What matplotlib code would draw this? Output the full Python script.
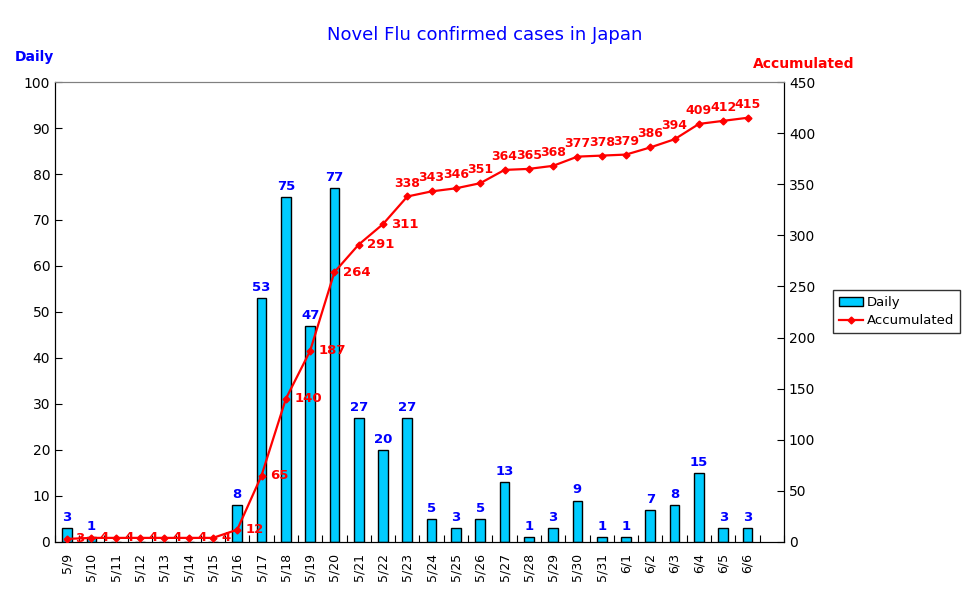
import numpy as np
import matplotlib
matplotlib.use('Agg')
import matplotlib.pyplot as plt

dates = ['5/9', '5/10', '5/11', '5/12', '5/13', '5/14', '5/15', '5/16', '5/17',
         '5/18', '5/19', '5/20', '5/21', '5/22', '5/23', '5/24', '5/25', '5/26',
         '5/27', '5/28', '5/29', '5/30', '5/31', '6/1', '6/2', '6/3', '6/4',
         '6/5', '6/6', '']
daily = [3, 1, 0, 0, 0, 0, 0, 8, 53, 75, 47, 77, 27, 20, 27, 5, 3, 5, 13, 1,
         3, 9, 1, 1, 7, 8, 15, 3, 3]
accum = [3, 4, 4, 4, 4, 4, 4, 12, 65, 140, 187, 264, 291, 311, 338, 343, 346,
         351, 364, 365, 368, 377, 378, 379, 386, 394, 409, 412, 415]

plt.rcParams['font.family'] = 'DejaVu Sans'

fig = plt.figure(figsize=(9.7, 6.03), dpi=100)
ax = fig.add_axes([0.0567, 0.1012, 0.7515, 0.7628])
ax2 = ax.twinx()

x = np.arange(len(daily))
bars = ax.bar(x, daily, width=0.4, color='#00CCFF', edgecolor='black',
              linewidth=1, label='Daily', zorder=2)
for xi, v in zip(x, daily):
    if v > 0:
        ax.annotate(str(v), (xi, v), xytext=(0, 3), textcoords='offset points',
                    ha='center', va='bottom', color='#0000FF',
                    fontsize=9.5, fontweight='bold')

line, = ax2.plot(x, accum, color='#FF0000', lw=1.6, marker='D', ms=3.5,
                 label='Accumulated', zorder=3)
for i, (xi, v) in enumerate(zip(x, accum)):
    if i < 14:
        ax2.annotate(str(v), (xi, v), xytext=(6, 0), textcoords='offset points',
                     ha='left', va='center', color='#FF0000',
                     fontsize=9.5, fontweight='bold')
    else:
        ax2.annotate(str(v), (xi, v), xytext=(0, 5), textcoords='offset points',
                     ha='center', va='bottom', color='#FF0000',
                     fontsize=9, fontweight='bold')

ax.set_xlim(-0.5, len(dates) - 0.5)
ax.set_ylim(0, 100)
ax2.set_ylim(0, 450)
ax.set_yticks(np.arange(0, 101, 10))
ax2.set_yticks(np.arange(0, 451, 50))

# ticks at category boundaries, labels at centres
ax.set_xticks(np.arange(-0.5, len(dates), 1))
ax.set_xticklabels([])
ax.set_xticks(np.arange(len(dates)), minor=True)
ax.set_xticklabels(dates, minor=True, rotation=90, fontsize=9)
ax.tick_params(axis='x', which='minor', length=0, pad=8)
ax.tick_params(axis='x', which='major', direction='in', length=5)
ax.tick_params(axis='y', direction='in', length=5, labelsize=10)
ax2.tick_params(axis='y', direction='in', length=5, labelsize=10)

for a in (ax, ax2):
    a.spines['top'].set_color('#808080')
    a.spines['left'].set_color('black')
    a.spines['right'].set_color('black')
    a.spines['bottom'].set_color('black')

fig.text(0.5, 0.942, 'Novel Flu confirmed cases in Japan', ha='center',
         va='center', color='#0000FF', fontsize=13)
fig.text(0.015, 0.905, 'Daily', ha='left', va='center', color='#0000FF',
         fontsize=10, fontweight='bold')
fig.text(0.776, 0.894, 'Accumulated', ha='left', va='center', color='#FF0000',
         fontsize=10, fontweight='bold')

leg = fig.legend([bars, line], ['Daily', 'Accumulated'], loc='center left',
                 bbox_to_anchor=(0.859, 0.483), frameon=True, fancybox=False,
                 edgecolor='black', fontsize=9.5, borderpad=0.45,
                 handlelength=1.8, handletextpad=0.3, labelspacing=0.4,
                 borderaxespad=0)
leg.get_frame().set_linewidth(1)

fig.savefig('out.png', dpi=100)
